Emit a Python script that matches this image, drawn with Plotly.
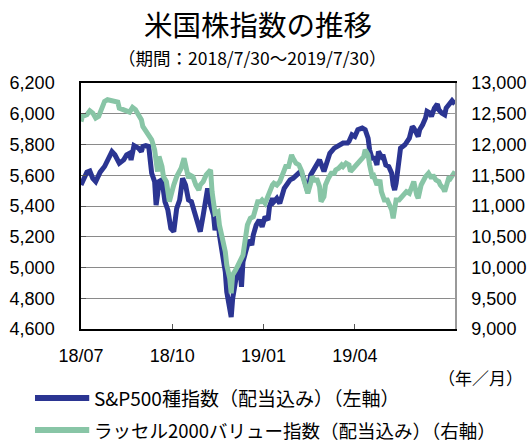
import plotly.graph_objects as go

# ---- data (trading-day index from 2018/7/30) ----
sp_days = [0, 1, 4, 6, 8, 10, 13, 16, 18, 21, 23, 26, 29, 31, 33, 34, 36, 39, 41, 42,
           44, 46, 47, 48, 50, 51, 52, 53, 55, 56, 57, 59, 60, 61, 63, 65, 67, 69, 71, 73,
           75, 77, 80, 81, 83, 85, 86, 88, 90, 91, 93, 94, 96, 98, 99, 101, 102, 103, 105, 106,
           108, 109, 110, 112, 114, 116, 117, 119, 121, 123, 125, 127, 128, 130, 131, 133, 135, 138, 140, 142,
           144, 147, 149, 151, 154, 156, 158, 160, 162, 165, 167, 169, 172, 174, 176, 178, 181, 182, 184, 186,
           188, 191, 193, 195, 196, 198, 199, 201, 202, 204, 205, 207, 209, 211, 212, 213, 214, 216, 217, 220,
           222, 223, 225, 226, 229, 230, 232, 234, 235, 237, 238, 240, 242, 243, 245, 247, 248, 250, 252, 254]
sp_vals = [5537, 5559, 5620, 5628, 5580, 5559, 5620, 5657, 5700, 5754, 5733, 5678, 5700, 5733, 5743, 5700, 5793, 5776, 5754, 5787,
           5793, 5787, 5700, 5613, 5559, 5406, 5472, 5559, 5570, 5493, 5428, 5374, 5276, 5254, 5233, 5385, 5439, 5580, 5537, 5439,
           5428, 5363, 5254, 5233, 5341, 5493, 5515, 5406, 5341, 5243, 5319, 5211, 5102, 4972, 4841, 4711, 4678, 4798, 4928, 4972,
           4993, 4874, 5037, 5124, 5178, 5146, 5211, 5276, 5309, 5265, 5330, 5309, 5396, 5450, 5428, 5450, 5417, 5515, 5548, 5570,
           5580, 5602, 5624, 5591, 5493, 5602, 5635, 5657, 5700, 5625, 5689, 5743, 5776, 5787, 5798, 5809, 5809, 5820, 5863, 5852,
           5896, 5907, 5896, 5841, 5765, 5700, 5722, 5667, 5754, 5722, 5733, 5667, 5657, 5613, 5537, 5504, 5548, 5711, 5776, 5798,
           5820, 5841, 5917, 5907, 5852, 5896, 5928, 5972, 6015, 6004, 5983, 6037, 6063, 6026, 6004, 5993, 6037, 6059, 6085, 6063]

rv_days = [0, 1, 4, 6, 8, 10, 12, 14, 16, 18, 21, 23, 25, 26, 29, 31, 33, 35, 37, 39,
           41, 42, 44, 46, 48, 50, 51, 52, 53, 55, 56, 58, 60, 61, 63, 65, 66, 68, 70, 71,
           73, 74, 76, 78, 80, 81, 83, 85, 87, 88, 89, 90, 91, 93, 94, 96, 98, 99, 101, 102,
           103, 105, 107, 108, 110, 112, 113, 115, 117, 118, 120, 122, 123, 125, 127, 128, 130, 131, 133, 135,
           137, 139, 141, 142, 143, 144, 146, 148, 150, 151, 153, 154, 156, 157, 159, 160, 162, 163, 165, 166,
           168, 170, 172, 173, 175, 177, 178, 180, 182, 183, 185, 187, 189, 191, 192, 193, 195, 196, 198, 199,
           201, 203, 204, 206, 208, 209, 211, 212, 213, 214, 216, 218, 220, 221, 223, 225, 226, 228, 229, 231,
           232, 234, 236, 238, 239, 241, 243, 244, 246, 247, 248, 250, 251, 253, 254]
rv_vals = [12375, 12457, 12484, 12549, 12511, 12429, 12457, 12592, 12701, 12728, 12712, 12712, 12690, 12592, 12565, 12565, 12527, 12603, 12565, 12484,
           12402, 12293, 12212, 12158, 12076, 11913, 11614, 11560, 11804, 11641, 11478, 11397, 11071, 11179, 11342, 11478, 11533, 11614, 11777, 11668,
           11451, 11505, 11478, 11342, 11261, 11342, 11397, 11505, 11560, 11587, 11234, 11016, 10880, 10907, 10690, 10473, 10255, 10038, 9821, 9580,
           9880, 9957, 10065, 10120, 10201, 10527, 10690, 10799, 10826, 10907, 11071, 11071, 11098, 11043, 11179, 11234, 11342, 11370, 11342, 11397,
           11533, 11641, 11641, 11804, 11831, 11777, 11696, 11668, 11560, 11451, 11261, 11207, 11370, 11478, 11397, 11451, 11315, 11071, 11152, 11342,
           11451, 11533, 11533, 11587, 11614, 11668, 11641, 11696, 11668, 11560, 11614, 11668, 11723, 11750, 11804, 11913, 11831, 11668, 11451, 11478,
           11342, 11424, 11234, 11098, 11098, 11043, 10935, 10799, 10907, 11098, 11098, 11152, 11179, 11234, 11207, 11342, 11397, 11179, 11125, 11342,
           11397, 11478, 11533, 11451, 11505, 11424, 11397, 11342, 11288, 11234, 11315, 11478, 11451, 11505, 11560]

x_tick_pos = [0, 62, 124, 186]
x_tick_labels = ["18/07", "18/10", "19/01", "19/04"]

title_text = "米国株指数の推移"
subtitle_text = "（期間：2018/7/30～2019/7/30）"
unit_text = "（年／月）"
sp_name = "S&P500種指数（配当込み）（左軸）"
rv_name = "ラッセル2000バリュー指数（配当込み）（右軸）"

BLUE = "#2B3592"
GREEN = "#88C5A6"
JP = "Noto Sans CJK JP"
NUM = "Liberation Sans"

fig = go.Figure()
fig.add_trace(go.Scatter(x=sp_days, y=sp_vals, mode="lines", name=sp_name,
                         line=dict(color=BLUE, width=5), yaxis="y"))
fig.add_trace(go.Scatter(x=rv_days, y=rv_vals, mode="lines", name=rv_name,
                         line=dict(color=GREEN, width=5), yaxis="y2"))

fig.update_layout(
    width=532, height=442, autosize=False,
    margin=dict(l=81, r=77, t=83, b=113, autoexpand=False),
    paper_bgcolor="white", plot_bgcolor="white",
    showlegend=False,
    xaxis=dict(range=[0, 254], tickmode="array", tickvals=x_tick_pos, ticktext=x_tick_labels,
               ticks="inside", ticklen=5, tickcolor="#555", showgrid=False, zeroline=False,
               showline=True, linecolor="black", linewidth=1.5, mirror=True, automargin=False,
               tickfont=dict(family=NUM, size=18, color="black"), ticklabelstandoff=10),
    yaxis=dict(range=[4600, 6200], dtick=200, tick0=4600, tickformat=",", showgrid=True,
               gridcolor="#8a8a8a", gridwidth=1, zeroline=False, showline=True, automargin=False,
               linecolor="black", linewidth=1.5, ticks="inside", ticklen=5, tickcolor="#555",
               tickfont=dict(family=NUM, size=18, color="black"), ticklabelstandoff=21),
    yaxis2=dict(range=[9000, 13000], dtick=500, tick0=9000, tickformat=",", overlaying="y",
                side="right", showgrid=False, zeroline=False, showline=True, automargin=False,
                linecolor="#999999", linewidth=1.5, ticks="inside", ticklen=5, tickcolor="#999",
                tickfont=dict(family=NUM, size=18, color="black"), ticklabelstandoff=11),
)

annots = [
    dict(text=title_text, x=0.473, y=1.242, font=dict(family=JP, size=28.5, color="black")),
    dict(text=subtitle_text, x=0.457, y=1.104, font=dict(family=JP, size=17.5, color="black")),
    dict(text=unit_text, x=1.067, y=-0.199, font=dict(family=JP, size=17, color="black")),
    dict(text=sp_name, x=0.0294, y=-0.280, xanchor="left", font=dict(family=JP, size=19, color="black")),
    dict(text=rv_name, x=0.0294, y=-0.411, xanchor="left", font=dict(family=JP, size=18.5, color="black")),
]
for a in annots:
    a.setdefault("xanchor", "center")
    fig.add_annotation(xref="paper", yref="paper", yanchor="middle", showarrow=False, **a)

for yy, col in [(-0.280, BLUE), (-0.411, GREEN)]:
    fig.add_shape(type="line", xref="paper", yref="paper", x0=-0.123, x1=0.022, y0=yy, y1=yy,
                  line=dict(color=col, width=6))

fig.write_html(
    "out.html",
    config={"displayModeBar": False},
    post_script="document.documentElement.style.overflow='hidden';"
                "document.body.style.margin='0';document.body.style.overflow='hidden';",
)
